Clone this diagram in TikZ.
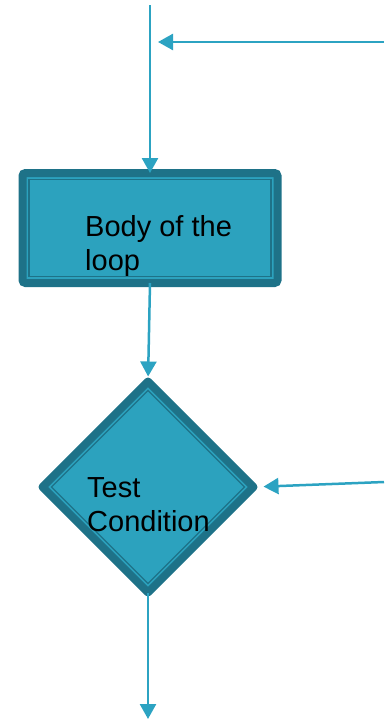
\documentclass[tikz,border=0pt]{standalone}
\usepackage{fontspec}
\setmainfont{Liberation Sans}
\usetikzlibrary{calc,arrows.meta,shapes.geometric}
\definecolor{flowfill}{RGB}{44,162,190}
\definecolor{flowdark}{RGB}{30,114,136}
\definecolor{flowline}{RGB}{44,163,194}
\tikzset{
  flowbox/.style={rectangle,draw=flowdark,fill=flowfill,line width=8pt,rounded corners=3pt,outer sep=0pt,inner sep=0pt},
  flowtest/.style={diamond,draw=flowdark,fill=flowfill,line width=8pt,line join=round,outer sep=0pt,inner sep=0pt},
  innerline/.style={draw=flowdark,line width=1.3pt},
  flowtext/.style={align=left,inner sep=0pt,font=\fontsize{29}{34}\selectfont},
  conn/.style={draw=flowline,line width=2.5pt,-{Triangle[length=15pt,width=16pt]}}
}
\begin{document}
\begin{tikzpicture}[x=1pt,y=-1pt]
\useasboundingbox (0,0) rectangle (384,721);
% shapes
\node[flowbox,minimum width=255,minimum height=110] (body) at (150,228) {};
\draw[innerline] ($(body.north west)+(6.5,6.5)$) rectangle ($(body.south east)+(-6.5,-6.5)$);
\node[flowtest,minimum width=211,minimum height=211] (test) at (148,487) {};
\draw[innerline] ($(test.north)+(0,9)$) -- ($(test.east)+(-9,0)$) -- ($(test.south)+(0,-9)$) -- ($(test.west)+(9,0)$) -- cycle;
% texts (base = last line)
\node[flowtext,anchor=base west] (bodytext) at (85,270) {Body of the\\loop};
\node[flowtext,anchor=base west] (testtext) at (87,531) {Test\\Condition};
% connectors
\coordinate (start) at (150,5);
\coordinate (backin) at (384,42);
\coordinate (backtip) at (158,42);
\coordinate (sidein) at (384,482);
\coordinate (exit) at (148,719);
\draw[conn] (start) -- (body.north);
\draw[conn] (backin) -- (backtip);
\draw[conn,shorten >=5pt] (body.south) -- (test.north);
\draw[conn,shorten >=10pt] (sidein) -- (test.east);
\draw[conn] (test.south) -- (exit);
\end{tikzpicture}
\end{document}
